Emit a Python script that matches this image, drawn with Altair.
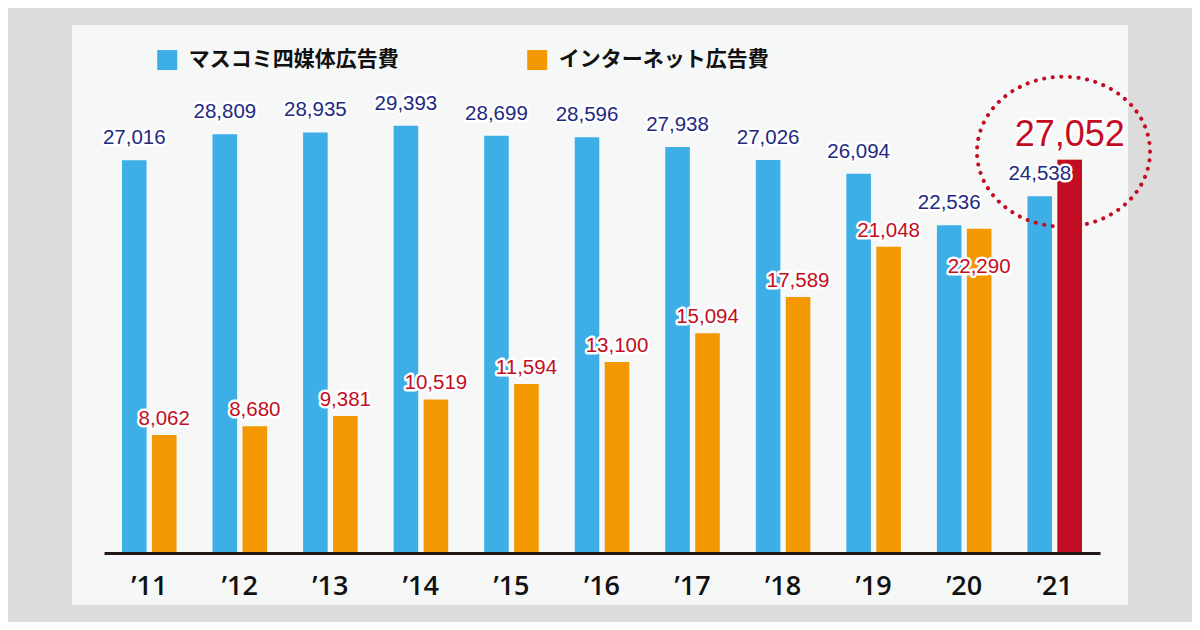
import altair as alt
import pandas as pd

# ---- data ----
years = ["’11", "’12", "’13", "’14", "’15", "’16", "’17", "’18", "’19", "’20", "’21"]
mass_media = [27016, 28809, 28935, 29393, 28699, 28596, 27938, 27026, 26094, 22536, 24538]
internet = [8062, 8680, 9381, 10519, 11594, 13100, 15094, 17589, 21048, 22290, 27052]
series_names = ["マスコミ四媒体広告費", "インターネット広告費"]

rows = []
for yr, m, i in zip(years, mass_media, internet):
    rows.append({"year": yr, "series": series_names[0], "value": m})
    rows.append({"year": yr, "series": series_names[1], "value": i})
df = pd.DataFrame(rows)

BLUE = "#3eaee6"
ORANGE = "#f39800"
RED = "#c30d23"
NAVY = "#22297f"
NUM_FONT = "Liberation Sans"

x_enc = alt.X(
    "year:N", sort=years,
    scale=alt.Scale(paddingInner=0, paddingOuter=0),
    axis=alt.Axis(title=None, domainColor="#231815", domainWidth=3, ticks=False, tickSize=0,
                  labelAngle=0, labelFont="Open Sans", labelFontWeight=600, labelFontSize=27,
                  labelColor="#111111", labelBaseline="alphabetic", labelPadding=41, grid=False,
                  zindex=2, offset=1),
)
xo_enc = alt.XOffset("series:N", sort=series_names,
                     scale=alt.Scale(domain=series_names, paddingInner=0.18, paddingOuter=0.6))
y_enc = alt.Y("value:Q", scale=alt.Scale(domain=[0, 32000], nice=False, zero=True), axis=None)

base = alt.Chart(df)

# panel
panel = alt.Chart(pd.DataFrame({"k": [0]})).mark_rect(fill="#f6f8f8").encode(
    x=alt.value(-32), x2=alt.value(1024), y=alt.value(-63), y2=alt.value(517)
)

bars = base.mark_bar().encode(
    x=x_enc, xOffset=xo_enc, y=y_enc,
    color=alt.Color("series:N",
                    scale=alt.Scale(domain=series_names, range=[BLUE, ORANGE]),
                    legend=alt.Legend(title=None, orient="none", legendX=52.7, legendY=-38.7,
                                      direction="horizontal", symbolType="square", symbolSize=400,
                                      symbolStrokeWidth=0, labelFont="Noto Sans CJK JP",
                                      labelFontWeight="bold", labelFontSize=21, labelColor="#111111",
                                      labelOffset=11, columnPadding=128, padding=0, labelLimit=400)),
)

last_year = years[-1]
prev_year = years[-2]
red_bar = base.transform_filter(
    f"datum.series === '{series_names[1]}' && datum.year === '{last_year}'"
).mark_bar(color=RED).encode(x=x_enc, xOffset=xo_enc, y=y_enc)


def label_layers(filter_expr, color, dy, size):
    b = base.transform_filter(filter_expr).encode(
        x=x_enc, xOffset=xo_enc, y=y_enc, text=alt.Text("value:Q", format=",")
    )
    halo = b.mark_text(dy=dy, baseline="alphabetic", align="center", font=NUM_FONT, fontSize=size,
                       fill="white", stroke="white", strokeWidth=5, strokeJoin="round")
    fg = b.mark_text(dy=dy, baseline="alphabetic", align="center", font=NUM_FONT, fontSize=size,
                     color=color)
    return [halo, fg]


layers = [panel, bars, red_bar]
layers += label_layers(f"datum.series === '{series_names[0]}'", NAVY, -16, 20.5)
layers += label_layers(
    f"datum.series === '{series_names[1]}' && datum.year !== '{last_year}' && datum.year !== '{prev_year}'",
    RED, -10, 20.5)
layers += label_layers(f"datum.series === '{series_names[1]}' && datum.year === '{prev_year}'", RED, 44, 20.5)
layers += label_layers(f"datum.series === '{series_names[1]}' && datum.year === '{last_year}'", RED, -14, 36)

# dotted ellipse highlight
k = 0.5523
a = 0.867
ka = round(k * a, 4)
ellipse = (f"M 1 0 C 1 {ka} {k} {a} 0 {a} C -{k} {a} -1 {ka} -1 0 "
           f"C -1 -{ka} -{k} -{a} 0 -{a} C {k} -{a} 1 -{ka} 1 0 Z")
circle = alt.Chart(pd.DataFrame({"k": [0]})).mark_point(
    shape=ellipse, size=29929, filled=False, stroke=RED, strokeWidth=4,
    strokeDash=[0.1, 8.5], strokeCap="round", opacity=1
).encode(x=alt.value(959.5), y=alt.value(63.7))
layers.append(circle)

chart = alt.layer(*layers).properties(
    width=996, height=464,
    padding={"left": 96, "top": 80, "right": 92, "bottom": 70},
    autosize=alt.AutoSizeParams(type="none"),
    background="#dcdcdc",
).configure_view(stroke=None)

chart.save("out.html", embed_options={"renderer": "svg", "actions": False})
